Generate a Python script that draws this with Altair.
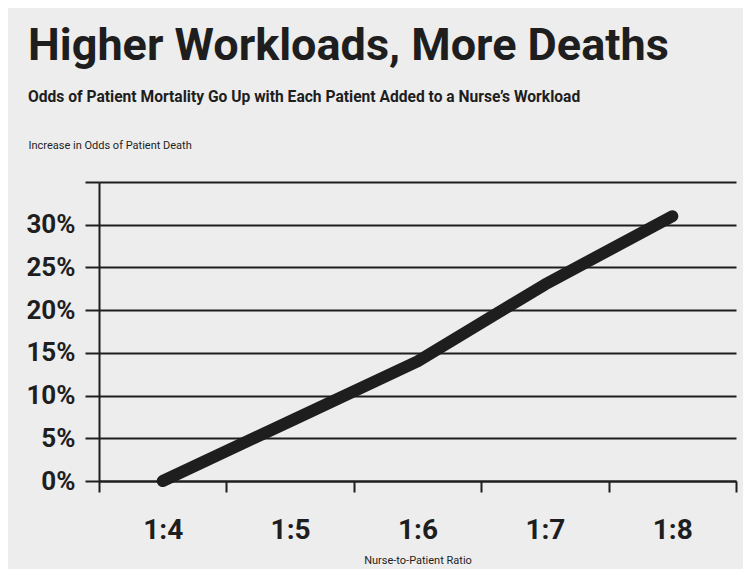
import altair as alt
import pandas as pd

ratios = ["1:4", "1:5", "1:6", "1:7", "1:8"]
increase = [0, 7, 14, 23, 31]
y_ticks = [0, 5, 10, 15, 20, 25, 30, 35]

title_text = "Higher Workloads, More Deaths"
subtitle_text = "Odds of Patient Mortality Go Up with Each Patient Added to a Nurse\u2019s Workload"
y_title = "Increase in Odds of Patient Death"
x_title = "Nurse-to-Patient Ratio"

df = pd.DataFrame({"ratio": ratios, "increase": increase})

FONT = "Roboto"
INK = "#1e1e1e"

chart = alt.Chart(df).mark_line(
    color=INK, strokeWidth=12, strokeCap="round", strokeJoin="round"
).encode(
    x=alt.X(
        "ratio:N", sort=ratios, bandPosition=0.5,
        scale=alt.Scale(type="band", paddingInner=0, paddingOuter=0),
        axis=alt.Axis(
            title=x_title, labelAngle=0, tickBand="extent", tickSize=11,
            tickWidth=2, tickColor=INK, domainColor=INK, domainWidth=2,
            labelFont=FONT, labelFontSize=28, labelFontWeight="bold",
            labelColor=INK, labelPadding=24, titleFont=FONT, titleFontSize=11,
            titleFontWeight="normal", titleColor=INK, titlePadding=10, grid=False,
        ),
    ),
    y=alt.Y(
        "increase:Q", scale=alt.Scale(domain=[0, 35], nice=False),
        axis=alt.Axis(
            values=y_ticks,
            labelExpr="datum.value >= 35 ? '' : datum.value + '%'",
            grid=True, gridColor=INK, gridWidth=2, gridOpacity=1,
            tickSize=14, tickWidth=2, tickColor=INK, domainColor=INK,
            domainWidth=2, labelFont=FONT, labelFontSize=26,
            labelFontWeight="bold", labelColor=INK, labelPadding=10,
            title=y_title, titleAngle=0, titleX=-71, titleY=-34,
            titleAlign="left", titleBaseline="alphabetic", titleFont=FONT,
            titleFontSize=11, titleFontWeight="normal", titleColor=INK,
        ),
    ),
).properties(
    width=637,
    height=299,
    padding={"left": 91, "top": 174, "right": 7, "bottom": 88},
    autosize=alt.AutoSizeParams(type="none"),
    background="#ededed",
    title=alt.TitleParams(
        text=title_text, subtitle=subtitle_text, anchor="start", frame="group",
        dx=-71, offset=33, font=FONT, fontSize=45, fontWeight="bold", color=INK,
        subtitleFont=FONT, subtitleFontSize=15.6, subtitleFontWeight="bold",
        subtitleColor=INK, subtitlePadding=21,
    ),
).configure_view(stroke=None)

chart.save("out.html", embed_options={"renderer": "svg", "actions": False})
